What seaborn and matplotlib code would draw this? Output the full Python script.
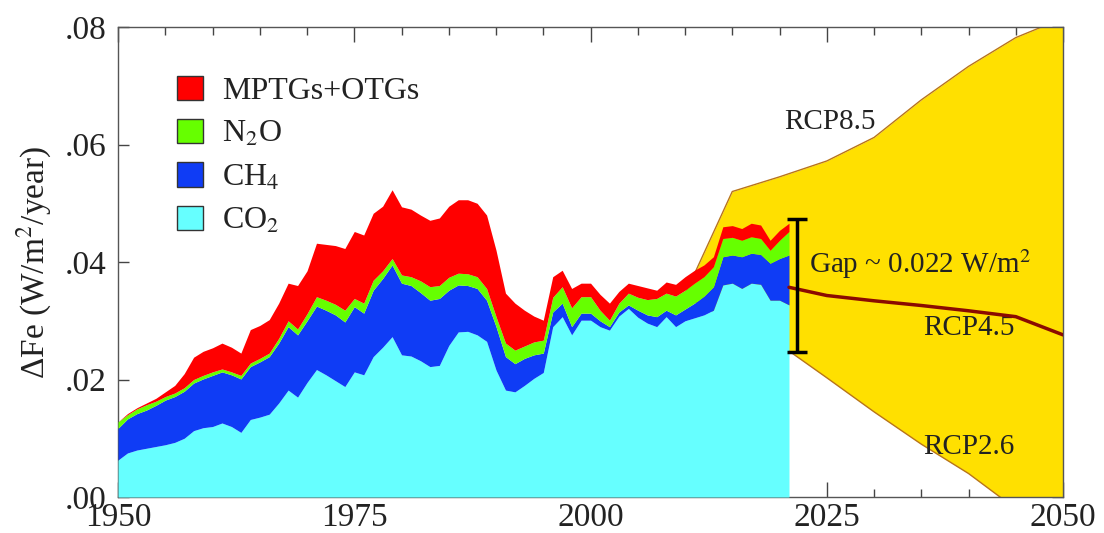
import matplotlib
matplotlib.use("Agg")
import matplotlib.pyplot as plt
import matplotlib.ticker as mticker
import numpy as np
import pandas as pd
import seaborn as sns

# Annual forcing growth by gas, 1950-2021 (W/m2/year)
years = list(range(1950, 2022))
co2 = [0.0063, 0.0075, 0.0080, 0.0083, 0.0086, 0.0089, 0.0093, 0.0100, 0.0113, 0.0118,
       0.0120, 0.0126, 0.0120, 0.0110, 0.0132, 0.0136, 0.0141, 0.0160, 0.0182, 0.0170,
       0.0195, 0.0217, 0.0208, 0.0198, 0.0188, 0.0213, 0.0208, 0.0239, 0.0255, 0.0273,
       0.0242, 0.0240, 0.0232, 0.0222, 0.0224, 0.0258, 0.0281, 0.0282, 0.0276, 0.0265,
       0.0216, 0.0182, 0.0179, 0.0190, 0.0202, 0.0212, 0.0290, 0.0307, 0.0276, 0.0301,
       0.0301, 0.0290, 0.0284, 0.0308, 0.0321, 0.0306, 0.0296, 0.0290, 0.0307, 0.0290,
       0.0300, 0.0305, 0.0310, 0.0318, 0.0361, 0.0364, 0.0355, 0.0364, 0.0362, 0.0335,
       0.0335, 0.0327]
ch4 = [0.0054, 0.0058, 0.0062, 0.0065, 0.0070, 0.0076, 0.0078, 0.0080, 0.0081, 0.0083,
       0.0087, 0.0087, 0.0088, 0.0091, 0.0090, 0.0094, 0.0098, 0.0102, 0.0108, 0.0106,
       0.0105, 0.0108, 0.0110, 0.0112, 0.0110, 0.0111, 0.0105, 0.0113, 0.0117, 0.0122,
       0.0122, 0.0120, 0.0116, 0.0113, 0.0114, 0.0094, 0.0080, 0.0078, 0.0079, 0.0070,
       0.0074, 0.0057, 0.0048, 0.0046, 0.0040, 0.0033, 0.0025, 0.0023, 0.0014, 0.0012,
       0.0012, 0.0010, 0.0006, 0.0007, 0.0006, 0.0012, 0.0014, 0.0017, 0.0011, 0.0020,
       0.0020, 0.0025, 0.0032, 0.0040, 0.0048, 0.0048, 0.0054, 0.0051, 0.0051, 0.0063,
       0.0071, 0.0085]
n2o = [0.0011, 0.0007, 0.0008, 0.0009, 0.0007, 0.0006, 0.0006, 0.0006, 0.0006, 0.0006,
       0.0006, 0.0005, 0.0005, 0.0006, 0.0006, 0.0006, 0.0006, 0.0008, 0.0010, 0.0010,
       0.0012, 0.0016, 0.0017, 0.0018, 0.0020, 0.0014, 0.0017, 0.0017, 0.0013, 0.0011,
       0.0014, 0.0015, 0.0020, 0.0023, 0.0022, 0.0022, 0.0020, 0.0020, 0.0020, 0.0020,
       0.0017, 0.0023, 0.0023, 0.0021, 0.0022, 0.0022, 0.0025, 0.0028, 0.0032, 0.0028,
       0.0028, 0.0018, 0.0011, 0.0015, 0.0020, 0.0022, 0.0026, 0.0031, 0.0029, 0.0032,
       0.0032, 0.0034, 0.0033, 0.0034, 0.0031, 0.0030, 0.0028, 0.0028, 0.0027, 0.0022,
       0.0031, 0.0040]
mptgs = [0.0000, 0.0002, 0.0002, 0.0003, 0.0005, 0.0008, 0.0013, 0.0024, 0.0038, 0.0041,
         0.0041, 0.0044, 0.0042, 0.0038, 0.0057, 0.0056, 0.0057, 0.0060, 0.0064, 0.0074,
         0.0073, 0.0091, 0.0095, 0.0100, 0.0105, 0.0114, 0.0116, 0.0114, 0.0110, 0.0117,
         0.0116, 0.0115, 0.0112, 0.0113, 0.0115, 0.0121, 0.0125, 0.0126, 0.0125, 0.0125,
         0.0113, 0.0085, 0.0080, 0.0061, 0.0044, 0.0034, 0.0035, 0.0028, 0.0033, 0.0023,
         0.0023, 0.0027, 0.0029, 0.0020, 0.0017, 0.0020, 0.0020, 0.0014, 0.0019, 0.0020,
         0.0023, 0.0022, 0.0020, 0.0017, 0.0020, 0.0020, 0.0020, 0.0023, 0.0023, 0.0017,
         0.0017, 0.0014]

# RCP scenarios
rcp_years = [2010, 2015, 2020, 2025, 2030, 2035, 2040, 2045, 2050]
rcp85 = [0.0345, 0.0520, 0.0545, 0.0572, 0.0612, 0.0676, 0.0733, 0.0782, 0.0815]
rcp26 = [0.0340, 0.0300, 0.0260, 0.0203, 0.0145, 0.0090, 0.0040, -0.0020, -0.0070]
rcp45_years = [2021, 2025, 2030, 2035, 2040, 2045, 2050]
rcp45 = [0.0357, 0.0343, 0.0334, 0.0326, 0.0317, 0.0307, 0.0276]

# Gap bar
gap_year = 2021.8
gap_top = 0.0473
gap_bottom = 0.0247

labels = ["CO$_2$", "CH$_4$", "N$_2$O", "MPTGs+OTGs"]
colors = ["#66ffff", "#0f3cf5", "#66ff00", "#ff0000"]

sns.set_style("ticks")
plt.rcParams["font.family"] = ["Liberation Serif", "DejaVu Serif"]
plt.rcParams["mathtext.fontset"] = "stix"
text_color = "#222222"

fig = plt.figure(figsize=(11.04, 5.33), dpi=100)
ax = fig.add_axes([0.1069, 0.0675, 0.856, 0.8818])

# scenario envelope
ax.fill_between(rcp_years, rcp26, rcp85, color="#ffe000", lw=0, zorder=1)
df_rcp = pd.DataFrame({"year": rcp_years, "rcp85": rcp85, "rcp26": rcp26})
sns.lineplot(data=df_rcp, x="year", y="rcp85", color="#b8741a", lw=1, ax=ax, zorder=2)
sns.lineplot(data=df_rcp, x="year", y="rcp26", color="#b8741a", lw=1, ax=ax, zorder=2)

# stacked observed forcing
polys = ax.stackplot(years, co2, ch4, n2o, mptgs, colors=colors, labels=labels,
                     lw=0, zorder=3)

df45 = pd.DataFrame({"year": rcp45_years, "rcp45": rcp45})
sns.lineplot(data=df45, x="year", y="rcp45", color="#8b0a00", lw=2.5, ax=ax, zorder=4)

ax.errorbar([gap_year], [(gap_top + gap_bottom) / 2], yerr=[(gap_top - gap_bottom) / 2],
            color="black", elinewidth=2.5, capsize=7, capthick=2.5, zorder=5)

ax.text(2023.1, 0.0397, "Gap ~ 0.022 W/m$^2$", fontsize=21, color=text_color,
        va="center", ha="left", zorder=6)
ax.text(2025.3, 0.0638, "RCP8.5", fontsize=21, color=text_color, ha="center", va="center")
ax.text(2040.0, 0.0288, "RCP4.5", fontsize=21, color=text_color, ha="center", va="center")
ax.text(2040.0, 0.0085, "RCP2.6", fontsize=21, color=text_color, ha="center", va="center")

ax.set_xlim(1950, 2050)
ax.set_ylim(0, 0.08)
ax.xaxis.set_major_locator(mticker.MultipleLocator(25))
ax.xaxis.set_minor_locator(mticker.MultipleLocator(5))
ax.yaxis.set_major_locator(mticker.MultipleLocator(0.02))
ax.yaxis.set_major_formatter(mticker.FuncFormatter(lambda v, p: f"{v:.2f}".lstrip("0") if v >= 0 else f"{v:.2f}"))
ax.tick_params(axis="both", which="both", direction="in", top=True, right=True,
               labelsize=24, colors="#444444", labelcolor=text_color, width=1)
ax.tick_params(axis="x", which="major", length=11, pad=4)
ax.tick_params(axis="x", which="minor", length=6)
ax.tick_params(axis="y", which="major", length=8, pad=8)
for s in ax.spines.values():
    s.set_color("#555555")
    s.set_linewidth(1)

ax.set_xlabel("")
ax.set_ylabel("ΔFe (W/m$^2$/year)", fontsize=24, color=text_color, labelpad=8)

handles = polys[::-1]
ax.legend(handles, labels[::-1], loc="upper left", bbox_to_anchor=(0.049, 0.924),
          frameon=False, fontsize=23, handlelength=0.8, handleheight=0.8,
          handletextpad=0.6, labelspacing=0.41, labelcolor=text_color,
          borderaxespad=0)
for h in ax.get_legend().legend_handles:
    h.set_edgecolor("#333333")
    h.set_linewidth(1)

fig.savefig("out.png", dpi=100)
